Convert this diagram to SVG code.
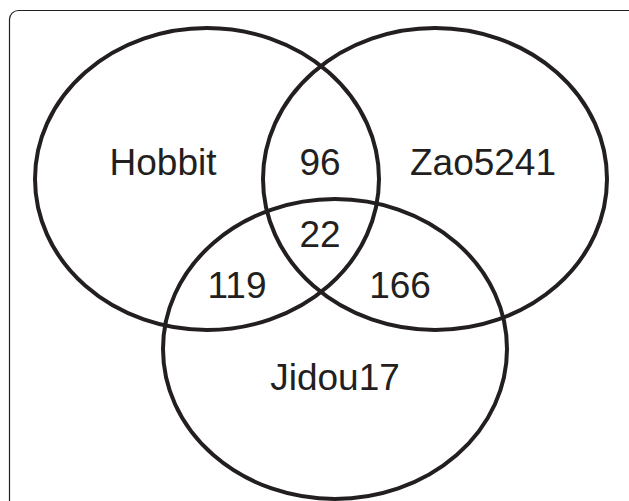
<svg xmlns="http://www.w3.org/2000/svg" width="629" height="501" viewBox="0 0 629 501">
<style>
.frame{fill:none;stroke:#231f20;stroke-width:1.2}
.set{fill:none;stroke:#231f20;stroke-width:4}
.lbl{font-family:"Liberation Sans",Arial,sans-serif;font-size:37px;fill:#231f20;text-anchor:middle}
</style>
<rect class="frame" x="9.5" y="10.5" width="630" height="520" rx="9"/>
<g id="connectors"></g>
<g id="hobbit"><ellipse class="set" cx="207" cy="179" rx="172" ry="151"/><text class="lbl" x="163" y="175">Hobbit</text></g>
<g id="zao5241"><ellipse class="set" cx="435" cy="179" rx="172" ry="151"/><text class="lbl" x="483" y="175">Zao5241</text></g>
<g id="jidou17"><ellipse class="set" cx="335" cy="349" rx="172" ry="150"/><text class="lbl" x="335" y="390">Jidou17</text></g>
<g id="n96"><text class="lbl" x="320" y="175">96</text></g>
<g id="n22"><text class="lbl" x="320" y="247">22</text></g>
<g id="n119"><text class="lbl" x="237" y="298">119</text></g>
<g id="n166"><text class="lbl" x="400" y="298">166</text></g>
</svg>
